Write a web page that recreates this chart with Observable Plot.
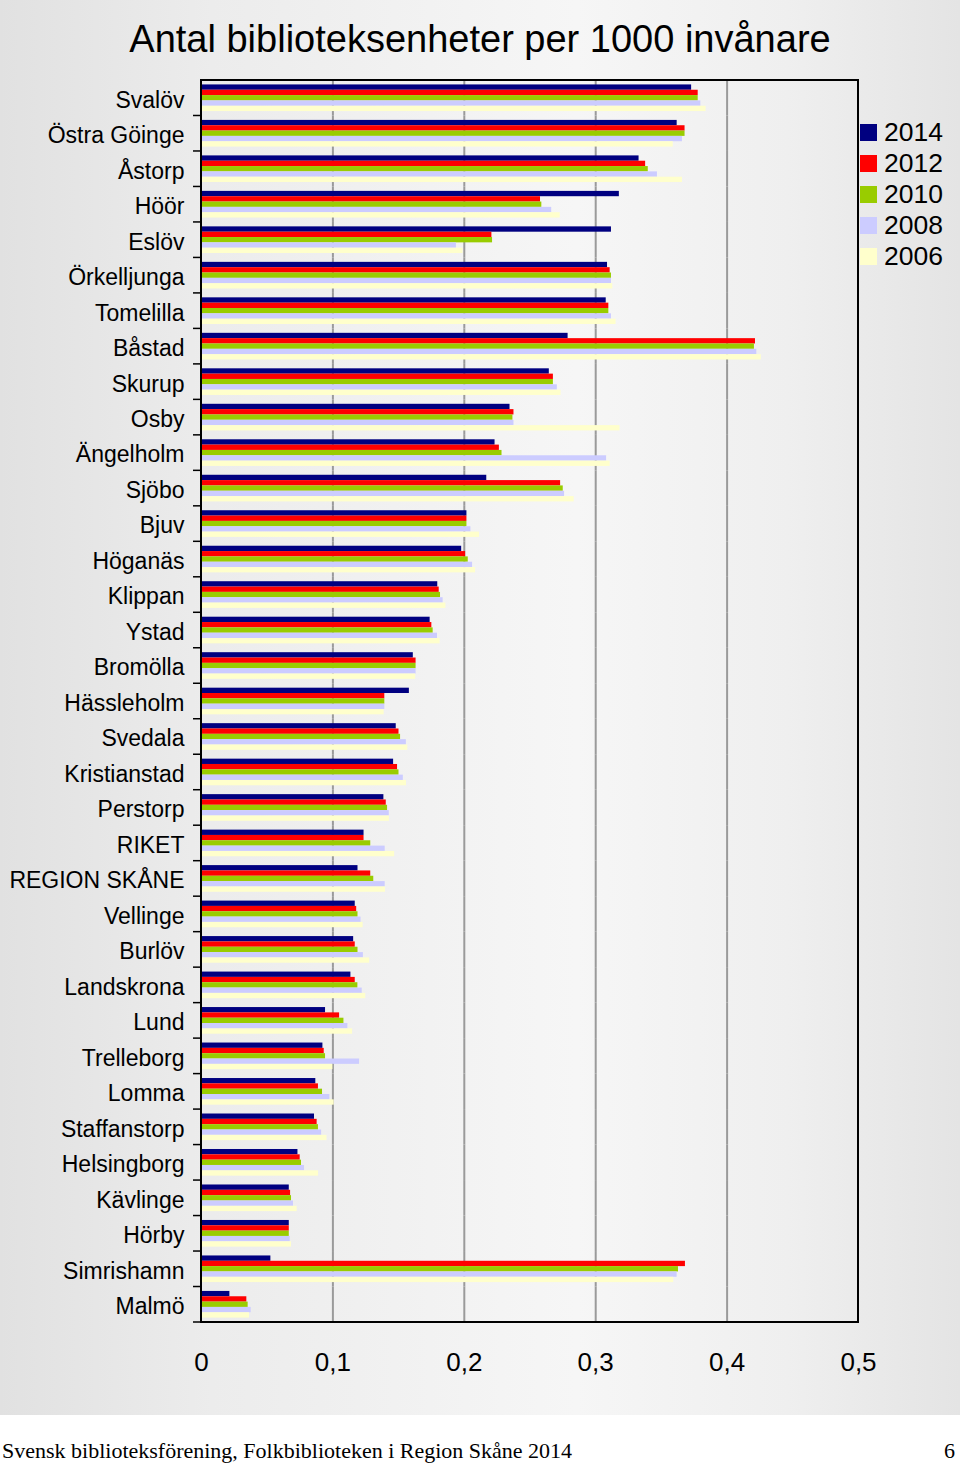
<!DOCTYPE html>
<html><head><meta charset="utf-8">
<script src="https://cdn.jsdelivr.net/npm/d3@7"></script>
<script src="https://cdn.jsdelivr.net/npm/@observablehq/plot@0.6"></script>
<style>
body{margin:0;background:#fff;}
#wrap{position:relative;width:960px;height:1415px;background:linear-gradient(to right,#e1e1e1 0%,#ececec 22%,#f6f6f6 60%,#efefef 82%,#e4e4e4 100%);font-family:"Liberation Sans",Arial,sans-serif;overflow:hidden;}
#title{height:76px;line-height:78px;text-align:center;font-size:38px;color:#000;}
#legend{position:absolute;left:860px;top:116.5px;}
.li{display:flex;align-items:center;height:31px;font-size:26.5px;color:#000;}
.sw{width:17px;height:17px;margin-right:7px;}
#footer{position:relative;height:48px;width:960px;font-family:"Liberation Serif","Times New Roman",serif;font-size:22px;line-height:22px;color:#000;}
#footer span{position:absolute;top:25px;white-space:nowrap;}
svg{display:block;}
</style></head>
<body>
<div id="wrap">
  <div id="title">Antal biblioteksenheter per 1000 invånare</div>
  <div id="chart"></div>
  <div id="legend"></div>
</div>
<div id="footer"><span style="left:2px">Svensk biblioteksförening, Folkbiblioteken i Region Skåne 2014</span><span style="right:5px">6</span></div>
<script>
const categories = ["Svalöv","Östra Göinge","Åstorp","Höör","Eslöv","Örkelljunga","Tomelilla","Båstad","Skurup","Osby","Ängelholm","Sjöbo","Bjuv","Höganäs","Klippan","Ystad","Bromölla","Hässleholm","Svedala","Kristianstad","Perstorp","RIKET","REGION SKÅNE","Vellinge","Burlöv","Landskrona","Lund","Trelleborg","Lomma","Staffanstorp","Helsingborg","Kävlinge","Hörby","Simrishamn","Malmö"];
const years = ["2014","2012","2010","2008","2006"];
const colors = ["#000080","#ff0000","#99cc00","#ccccff","#ffffcc"];
const xTicks = [0, 0.1, 0.2, 0.3, 0.4, 0.5];

const v2014 = [0.373,0.362,0.333,0.318,0.312,0.309,0.308,0.279,0.2647,0.2348,0.2234,0.2171,0.202,0.198,0.1798,0.174,0.1612,0.1582,0.1482,0.1462,0.1388,0.1237,0.1191,0.117,0.1158,0.1137,0.0944,0.0924,0.087,0.086,0.0734,0.0668,0.0668,0.0528,0.0216];
const v2012 = [0.378,0.368,0.338,0.258,0.221,0.311,0.310,0.4216,0.2678,0.2378,0.2267,0.2733,0.202,0.201,0.1809,0.1753,0.1633,0.1395,0.1503,0.1492,0.1406,0.1237,0.1288,0.1181,0.117,0.117,0.1051,0.0934,0.089,0.088,0.0751,0.0678,0.0668,0.3683,0.0345];
const v2010 = [0.378,0.368,0.340,0.259,0.2215,0.312,0.310,0.4208,0.2678,0.237,0.2287,0.2753,0.202,0.203,0.1819,0.1763,0.1633,0.1395,0.1515,0.1503,0.1416,0.1288,0.1311,0.1191,0.1191,0.119,0.1084,0.0944,0.0921,0.089,0.0761,0.0685,0.0668,0.363,0.0355];
const v2008 = [0.380,0.366,0.347,0.2665,0.194,0.312,0.312,0.4226,0.2708,0.2378,0.3083,0.2763,0.205,0.2063,0.1839,0.1796,0.1633,0.1395,0.1559,0.1536,0.1429,0.1398,0.1398,0.1214,0.1232,0.1223,0.1114,0.1203,0.0977,0.0914,0.0784,0.070,0.0675,0.362,0.0378];
const v2006 = [0.384,0.359,0.366,0.273,0.199,0.313,0.3155,0.426,0.2736,0.3185,0.311,0.2836,0.2116,0.2086,0.186,0.1816,0.163,0.139,0.157,0.156,0.143,0.147,0.140,0.123,0.128,0.125,0.115,0.100,0.101,0.0955,0.0891,0.0728,0.0685,0.3594,0.0365];

const series = {"2014": v2014, "2012": v2012, "2010": v2010, "2008": v2008, "2006": v2006};
const data = [];
categories.forEach((cat, i) => years.forEach(year => data.push({cat, year, value: series[year][i]})));

const plot = Plot.plot({
  width: 960, height: 1339,
  marginTop: 4, marginBottom: 93, marginLeft: 201, marginRight: 102,
  style: {background: "transparent", fontFamily: "'Liberation Sans', Arial, sans-serif", color: "#000", overflow: "visible"},
  x: {domain: [0, 0.5]},
  y: {domain: years, paddingInner: 0, paddingOuter: 0.83, round: false, axis: null},
  fy: {domain: categories, padding: 0, round: false},
  color: {domain: years, range: colors},
  marks: [
    Plot.gridX(xTicks.slice(1, -1), {stroke: "#9a9a9a", strokeWidth: 2, strokeOpacity: 1}),
    Plot.barX(data, {x: "value", y: "year", fy: "cat", fill: "year"}),
    Plot.axisX(xTicks, {anchor: "bottom", tickSize: 0, tickPadding: 30, fontSize: 26, tickFormat: d => String(d).replace(".", ","), label: null}),
    Plot.axisFy({anchor: "left", tickSize: 0, tickPadding: 17, fontSize: 23, dy: 2, label: null})
  ]
});

// frame and category boundary ticks from the plot's own scales
const xs = plot.scale("x"), fys = plot.scale("fy");
const band = d3.scaleBand().domain(fys.domain).range(fys.range).padding(0);
const x0 = xs.range[0], x1 = xs.range[1];
const y0 = fys.range[0], y1 = fys.range[1];
const g = d3.select(plot).append("g");
g.selectAll("line.tk").data(categories.slice(1).map(c => band(c)).concat([y1])).join("line")
  .attr("x1", x0 - 8).attr("x2", x0).attr("y1", d => d).attr("y2", d => d)
  .attr("stroke", "#000").attr("stroke-width", 1.5);
g.append("rect").attr("x", x0).attr("y", y0).attr("width", x1 - x0).attr("height", y1 - y0)
  .attr("fill", "none").attr("stroke", "#000").attr("stroke-width", 2);

document.getElementById("chart").appendChild(plot);

const legend = document.getElementById("legend");
years.forEach((y, i) => {
  const row = document.createElement("div");
  row.className = "li";
  row.innerHTML = `<div class="sw" style="background:${colors[i]}"></div><span>${y}</span>`;
  legend.appendChild(row);
});
</script>
</body></html>
